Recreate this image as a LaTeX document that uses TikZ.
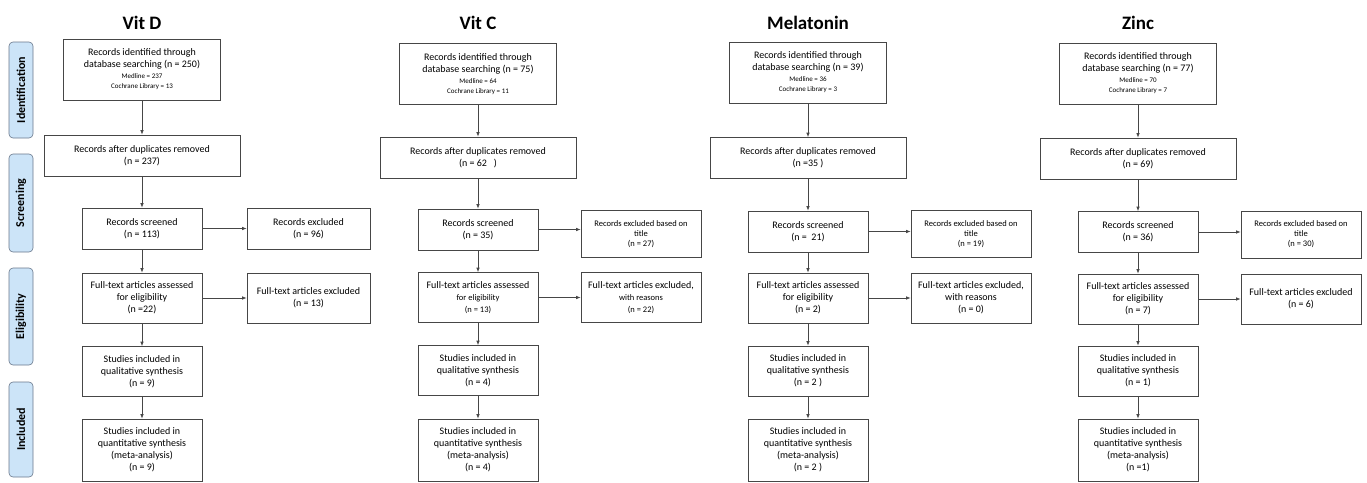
\documentclass[tikz,border=0pt]{standalone}
\usepackage{fontspec}
\setmainfont{Carlito}
\usetikzlibrary{arrows.meta}
\definecolor{stagefill}{RGB}{204,228,248}
\definecolor{stageline}{RGB}{105,120,140}
\definecolor{boxline}{RGB}{70,70,70}
\newcommand{\smalltxt}[1]{{\fontsize{7}{9}\selectfont #1}}
\newcommand{\midtxt}[1]{{\fontsize{8.5}{10}\selectfont #1}}

\begin{document}
\begin{tikzpicture}[x=1pt, y=-1pt,
    every node/.style={align=center, inner sep=2pt, font=\fontsize{10}{12}\selectfont},
    rec/.style={draw=boxline, line width=0.7pt, minimum width=120pt, minimum height=41pt},
    idbox/.style={rec, minimum width=157pt, minimum height=61pt},
    dupbox/.style={rec, minimum width=196pt},
    exsmall/.style={rec, minimum height=47pt, font=\fontsize{8.5}{10}\selectfont},
    tallbox/.style={rec, minimum height=50pt},
    title/.style={font=\fontsize{19}{22}\selectfont\bfseries},
    stage/.style={draw=stageline, fill=stagefill, line width=0.6pt, rounded corners=4pt, rotate=90,
        minimum height=24pt, inner sep=0pt, font=\fontsize{12}{14}\selectfont\bfseries},
    arr/.style={draw=boxline, line width=0.7pt, -{Latex[length=4.5pt,width=3.5pt]}}]
    \useasboundingbox (0,0) rectangle (1367,482);

    % Stage labels
    \node[stage, minimum width=96pt] (sId) at (21,90) {Identification};
    \node[stage, minimum width=98pt] (sScr) at (21,203) {Screening};
    \node[stage, minimum width=97pt] (sElig) at (21,316.5) {Eligibility};
    \node[stage, minimum width=95pt] (sInc) at (21,429.5) {Included};

    % Vit D
    \node[title] (tD) at (142,23) {Vit D};
    \node[idbox] (idD) at (142,69.5) {Records identified through\\database searching (n = 250)\\[-1pt]\smalltxt{Medline = 237}\\[-2pt]\smalltxt{Cochrane Library = 13}};
    \node[dupbox] (dupD) at (142,155.5) {Records after duplicates removed\\(n = 237)};
    \node[rec] (scrD) at (142,228.5) {Records screened\\(n = 113)};
    \node[rec, minimum width=123pt] (exD) at (308.5,228.5) {Records excluded\\(n = 96)};
    \node[tallbox] (ftD) at (142,298) {Full-text articles assessed\\for eligibility\\(n =22)};
    \node[tallbox, minimum width=123pt] (ftexD) at (308.5,298) {Full-text articles excluded\\(n = 13)};
    \node[tallbox] (qualD) at (142,371.5) {Studies included in\\qualitative synthesis\\(n = 9)};
    \node[rec, minimum height=62pt] (quantD) at (142,450) {Studies included in\\quantitative synthesis\\(meta-analysis)\\(n = 9)};

    % Vit C
    \node[title] (tC) at (478,23) {Vit C};
    \node[idbox] (idC) at (478,74) {Records identified through\\database searching (n = 75)\\[-1pt]\smalltxt{Medline = 64}\\[-2pt]\smalltxt{Cochrane Library = 11}};
    \node[dupbox] (dupC) at (478,157.5) {Records after duplicates removed\\(n = 62\ \ \ )};
    \node[rec] (scrC) at (478,229.5) {Records screened\\(n = 35)};
    \node[exsmall] (exC) at (641,234) {Records excluded based on\\title\\(n = 27)};
    \node[tallbox] (ftC) at (478,297.5) {Full-text articles assessed\\\midtxt{for eligibility}\\\midtxt{(n = 13)}};
    \node[tallbox] (ftexC) at (641,297.5) {Full-text articles excluded,\\\midtxt{with reasons}\\\midtxt{(n = 22)}};
    \node[tallbox] (qualC) at (478,370.5) {Studies included in\\qualitative synthesis\\(n = 4)};
    \node[rec, minimum height=62pt] (quantC) at (478,450) {Studies included in\\quantitative synthesis\\(meta-analysis)\\(n = 4)};

    % Melatonin
    \node[title] (tM) at (808,23) {Melatonin};
    \node[idbox] (idM) at (808,72.5) {Records identified through\\database searching (n = 39)\\[-1pt]\smalltxt{Medline = 36}\\[-2pt]\smalltxt{Cochrane Library = 3}};
    \node[dupbox] (dupM) at (808,158) {Records after duplicates removed\\(n =35 )};
    \node[rec] (scrM) at (808,231.5) {Records screened\\(n =\ \ 21)};
    \node[exsmall] (exM) at (971,234) {Records excluded based on\\title\\(n = 19)};
    \node[tallbox] (ftM) at (808,298) {Full-text articles assessed\\for eligibility\\(n = 2)};
    \node[tallbox] (ftexM) at (971,298) {Full-text articles excluded,\\with reasons\\(n = 0)};
    \node[tallbox] (qualM) at (808,371) {Studies included in\\qualitative synthesis\\(n = 2 )};
    \node[rec, minimum height=62pt] (quantM) at (808,450) {Studies included in\\quantitative synthesis\\(meta-analysis)\\(n = 2 )};

    % Zinc
    \node[title] (tZ) at (1138,23) {Zinc};
    \node[idbox] (idZ) at (1138,73.5) {Records identified through\\database searching (n = 77)\\[-1pt]\smalltxt{Medline = 70}\\[-2pt]\smalltxt{Cochrane Library = 7}};
    \node[dupbox] (dupZ) at (1138,158.5) {Records after duplicates removed\\(n = 69)};
    \node[rec] (scrZ) at (1138,232) {Records screened\\(n = 36)};
    \node[exsmall] (exZ) at (1301,234.5) {Records excluded based on\\title\\(n = 30)};
    \node[tallbox] (ftZ) at (1138,299) {Full-text articles assessed\\for eligibility\\(n = 7)};
    \node[tallbox] (ftexZ) at (1301,299) {Full-text articles excluded\\(n = 6)};
    \node[tallbox] (qualZ) at (1138,371) {Studies included in\\qualitative synthesis\\(n = 1)};
    \node[rec, minimum height=62pt] (quantZ) at (1138,450) {Studies included in\\quantitative synthesis\\(meta-analysis)\\(n =1)};

    % Arrows down each column and out to the exclusions
    \draw[arr] (idD) -- (dupD);
    \draw[arr] (dupD) -- (scrD);
    \draw[arr] (scrD) -- (ftD);
    \draw[arr] (ftD) -- (qualD);
    \draw[arr] (qualD) -- (quantD);
    \draw[arr] (scrD) -- (scrD -| exD.west);
    \draw[arr] (ftD) -- (ftD -| ftexD.west);

    \draw[arr] (idC) -- (dupC);
    \draw[arr] (dupC) -- (scrC);
    \draw[arr] (scrC) -- (ftC);
    \draw[arr] (ftC) -- (qualC);
    \draw[arr] (qualC) -- (quantC);
    \draw[arr] (scrC) -- (scrC -| exC.west);
    \draw[arr] (ftC) -- (ftC -| ftexC.west);

    \draw[arr] (idM) -- (dupM);
    \draw[arr] (dupM) -- (scrM);
    \draw[arr] (scrM) -- (ftM);
    \draw[arr] (ftM) -- (qualM);
    \draw[arr] (qualM) -- (quantM);
    \draw[arr] (scrM) -- (scrM -| exM.west);
    \draw[arr] (ftM) -- (ftM -| ftexM.west);

    \draw[arr] (idZ) -- (dupZ);
    \draw[arr] (dupZ) -- (scrZ);
    \draw[arr] (scrZ) -- (ftZ);
    \draw[arr] (ftZ) -- (qualZ);
    \draw[arr] (qualZ) -- (quantZ);
    \draw[arr] (scrZ) -- (scrZ -| exZ.west);
    \draw[arr] (ftZ) -- (ftZ -| ftexZ.west);
\end{tikzpicture}
\end{document}
